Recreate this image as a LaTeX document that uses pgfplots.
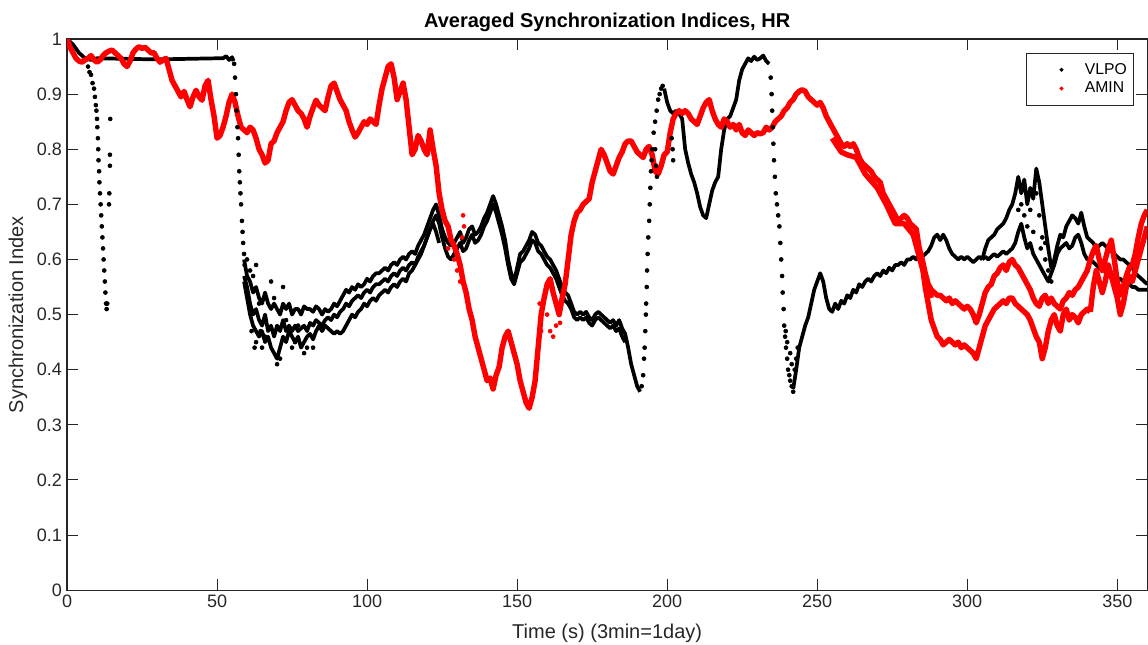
\documentclass[border=0pt]{standalone}
\usepackage{fontspec}
\setmainfont{Liberation Sans}
\usepackage{pgfplots}
\pgfplotsset{compat=1.18}
\definecolor{axgray}{rgb}{0.15,0.15,0.15}
\pgfplotsset{
  vl/.style={black, line width=2.6pt, line join=round, no markers, forget plot},
  am/.style={red, line width=3.8pt, line join=round, no markers, forget plot},
  vld/.style={black, only marks, mark=*, mark size=1.4pt, forget plot},
  amd/.style={red, only marks, mark=*, mark size=1.4pt, forget plot},
}
\begin{document}
\begin{tikzpicture}
\begin{axis}[
  scale only axis, width=756pt, height=385.7pt,
  xmin=0, xmax=360, ymin=0, ymax=1,
  xtick={0,50,100,150,200,250,300,350},
  ytick={0,0.1,0.2,0.3,0.4,0.5,0.6,0.7,0.8,0.9,1},
  yticklabel style={/pgf/number format/fixed},
  /pgf/number format/assume math mode=true,
  tick align=inside, major tick length=7.7pt,
  tick style={axgray, line width=0.7pt},
  axis line style={axgray, line width=0.8pt},
  ticklabel style={font=\fontsize{12.6}{14}\selectfont, color=axgray},
  title={Averaged Synchronization Indices, HR},
  every axis title/.style={anchor=center, at={(0.5,1.031)}, font=\bfseries\fontsize{14}{16}\selectfont},
  xlabel={Time (s) (3min=1day)},
  xlabel style={anchor=center, at={(axis description cs:0.5,-0.078)}, font=\fontsize{14}{16}\selectfont, color=axgray},
  ylabel={Synchronization Index},
  ylabel style={anchor=center, at={(axis description cs:-0.0454,0.5)}, font=\fontsize{14}{16}\selectfont, color=axgray},
  legend style={at={(0.988,0.975)}, anchor=north east, draw=axgray, line width=0.6pt,
    font=\fontsize{11}{13}\selectfont, inner xsep=3pt, inner ysep=5pt},
  legend cell align=left,
  legend image code/.code={\path (0pt,0pt) (35pt,0pt); \draw[#1] plot coordinates {(21pt,0pt)};},
]
\addlegendimage{black, only marks, mark=*, mark size=1.1pt}
\addlegendentry{VLPO}
\addlegendimage{red, only marks, mark=*, mark size=1.1pt}
\addlegendentry{AMIN}

% VLPO: start and plateau
\addplot[vl] coordinates {(0,1.0)(2,0.99)(4,0.975)(6,0.965)(8,0.962)(10,0.965)(20,0.964)(30,0.963)(40,0.964)(50,0.965)(52,0.965)(53,0.969)(54,0.962)(55,0.967)(55.5,0.96)};
% VLPO: three traces 59-125
\addplot[vl] coordinates {(59,0.60)(60,0.57)(61,0.56)(62,0.54)(63,0.55)(64,0.53)(65,0.52)(66,0.54)(67,0.52)(68,0.51)(69,0.52)(70,0.51)(71,0.50)(72,0.52)(73,0.51)(74,0.52)(75,0.50)(76,0.51)(77,0.51)(78,0.50)(79,0.515)(80,0.51)(81,0.51)(82,0.505)(83,0.515)(84,0.51)(85,0.50)(86,0.51)(87,0.505)(88,0.51)(89,0.52)(90,0.515)(91,0.525)(92,0.535)(93,0.545)(94,0.54)(95,0.55)(96,0.545)(97,0.555)(98,0.55)(99,0.555)(100,0.565)(101,0.56)(102,0.57)(103,0.575)(104,0.575)(105,0.58)(106,0.585)(107,0.58)(108,0.59)(109,0.595)(110,0.59)(111,0.60)(112,0.605)(113,0.60)(114,0.61)(115,0.615)(116,0.61)(117,0.625)(118,0.635)(119,0.645)(120,0.66)(121,0.675)(122,0.69)(123,0.70)(124,0.68)(125,0.655)(126,0.64)(127,0.63)(128,0.625)(129,0.63)(130,0.64)(131,0.65)(132,0.63)(133,0.64)(134,0.655)(135,0.66)(136,0.645)(137,0.65)(138,0.66)(139,0.675)(140,0.685)(141,0.70)(142,0.715)(143,0.70)(144,0.68)(145,0.66)(146,0.635)(147,0.60)(148,0.575)(149,0.56)(150,0.585)(151,0.61)(152,0.615)(153,0.625)(154,0.635)(155,0.65)(156,0.645)(157,0.63)(158,0.625)(159,0.615)(160,0.605)(161,0.60)(162,0.59)(163,0.58)(164,0.565)(165,0.55)(166,0.54)(167,0.535)(168,0.52)(169,0.505)(170,0.50)(171,0.505)(172,0.50)(173,0.505)(174,0.495)(175,0.49)(176,0.50)(177,0.505)(178,0.50)(179,0.495)(180,0.49)(181,0.485)(182,0.49)(183,0.48)(184,0.49)(185,0.475)(186,0.465)(187,0.44)(188,0.41)(189,0.39)(190,0.37)(191,0.36)};
\addplot[vl] coordinates {(59,0.57)(60,0.55)(61,0.52)(62,0.50)(63,0.51)(64,0.49)(65,0.48)(66,0.50)(67,0.47)(68,0.48)(69,0.46)(70,0.48)(71,0.47)(72,0.49)(73,0.47)(74,0.48)(75,0.47)(76,0.48)(77,0.47)(78,0.475)(79,0.48)(80,0.47)(81,0.485)(82,0.48)(83,0.49)(84,0.485)(85,0.48)(86,0.49)(87,0.495)(88,0.49)(89,0.50)(90,0.495)(91,0.505)(92,0.51)(93,0.52)(94,0.515)(95,0.525)(96,0.53)(97,0.535)(98,0.53)(99,0.54)(100,0.545)(101,0.54)(102,0.55)(103,0.555)(104,0.555)(105,0.56)(106,0.565)(107,0.56)(108,0.57)(109,0.575)(110,0.57)(111,0.58)(112,0.585)(113,0.58)(114,0.59)(115,0.595)(116,0.59)(117,0.605)(118,0.615)(119,0.625)(120,0.64)(121,0.655)(122,0.67)(123,0.68)(124,0.665)(125,0.64)(126,0.62)(127,0.605)(128,0.60)(129,0.61)(130,0.62)(131,0.63)(132,0.615)(133,0.62)(134,0.635)(135,0.645)(136,0.63)(137,0.635)(138,0.645)(139,0.66)(140,0.67)(141,0.685)(142,0.70)(143,0.685)(144,0.665)(145,0.645)(146,0.62)(147,0.59)(148,0.565)(149,0.555)(150,0.575)(151,0.595)(152,0.60)(153,0.61)(154,0.62)(155,0.635)(156,0.63)(157,0.615)(158,0.61)(159,0.60)(160,0.59)(161,0.585)(162,0.575)(163,0.565)(164,0.55)(165,0.535)(166,0.525)(167,0.52)(168,0.51)(169,0.495)(170,0.49)(171,0.495)(172,0.49)(173,0.495)(174,0.485)(175,0.48)(176,0.49)(177,0.495)(178,0.49)(179,0.485)(180,0.48)(181,0.475)(182,0.48)(183,0.47)(184,0.475)(185,0.46)(186,0.45)};
\addplot[vl] coordinates {(59,0.56)(60,0.53)(61,0.50)(62,0.48)(63,0.47)(64,0.46)(65,0.47)(66,0.45)(67,0.46)(68,0.44)(69,0.43)(70,0.42)(71,0.44)(72,0.46)(73,0.45)(74,0.47)(75,0.46)(76,0.45)(77,0.46)(78,0.44)(79,0.45)(80,0.46)(81,0.465)(82,0.455)(83,0.47)(84,0.48)(85,0.47)(86,0.48)(87,0.475)(88,0.47)(89,0.465)(90,0.47)(91,0.465)(92,0.47)(93,0.48)(94,0.49)(95,0.50)(96,0.495)(97,0.505)(98,0.51)(99,0.52)(100,0.515)(101,0.525)(102,0.53)(103,0.525)(104,0.535)(105,0.54)(106,0.545)(107,0.54)(108,0.55)(109,0.555)(110,0.55)(111,0.56)(112,0.565)(113,0.56)(114,0.575)(115,0.58)(116,0.59)(117,0.60)(118,0.61)(119,0.625)(120,0.64)(121,0.655)(122,0.665)(123,0.65)(124,0.63)};
% VLPO: 199-234
\addplot[vl] coordinates {(199,0.91)(200,0.885)(201,0.87)(202,0.865)(203,0.87)(204,0.865)(205,0.855)(206,0.80)(207,0.775)(208,0.755)(209,0.74)(210,0.72)(211,0.695)(212,0.68)(213,0.675)(214,0.70)(215,0.725)(216,0.74)(217,0.75)(218,0.80)(219,0.835)(220,0.855)(221,0.86)(222,0.875)(223,0.89)(224,0.925)(225,0.945)(226,0.955)(227,0.965)(228,0.96)(229,0.968)(230,0.962)(231,0.965)(232,0.97)(233,0.96)(234,0.955)};
% VLPO: 242-305
\addplot[vl] coordinates {(242,0.365)(243,0.40)(244,0.44)(245,0.46)(246,0.48)(247,0.495)(248,0.52)(249,0.545)(250,0.56)(251,0.575)(252,0.56)(253,0.53)(254,0.51)(255,0.505)(256,0.52)(257,0.51)(258,0.525)(259,0.52)(260,0.535)(261,0.53)(262,0.545)(263,0.54)(264,0.555)(265,0.55)(266,0.56)(267,0.565)(268,0.56)(269,0.57)(270,0.575)(271,0.57)(272,0.58)(273,0.575)(274,0.585)(275,0.58)(276,0.59)(277,0.59)(278,0.595)(279,0.59)(280,0.60)(281,0.60)(282,0.605)(283,0.60)(284,0.61)(285,0.605)(286,0.61)(287,0.615)(288,0.625)(289,0.64)(290,0.645)(291,0.635)(292,0.645)(293,0.635)(294,0.62)(295,0.61)(296,0.605)(297,0.60)(298,0.605)(299,0.60)(300,0.605)(301,0.60)(302,0.595)(303,0.60)(304,0.605)(305,0.60)};
% VLPO: two traces 305-360
\addplot[vl] coordinates {(305,0.60)(306,0.62)(307,0.635)(308,0.64)(309,0.645)(310,0.655)(311,0.66)(312,0.665)(313,0.675)(314,0.69)(315,0.70)(316,0.72)(317,0.75)(318,0.72)(319,0.745)(320,0.70)(321,0.73)(322,0.71)(323,0.765)(324,0.74)(325,0.70)(326,0.66)(327,0.62)(328,0.585)(329,0.60)(330,0.625)(331,0.645)(332,0.64)(333,0.66)(334,0.67)(335,0.68)(336,0.675)(337,0.665)(338,0.685)(339,0.66)(340,0.64)(341,0.635)(342,0.63)(343,0.62)(344,0.625)(345,0.63)(346,0.625)(347,0.62)(348,0.615)(349,0.61)(350,0.605)(351,0.60)(352,0.60)(353,0.595)(354,0.59)(355,0.585)(356,0.575)(357,0.57)(358,0.565)(359,0.56)(360,0.555)};
\addplot[vl] coordinates {(305,0.60)(306,0.605)(307,0.60)(308,0.605)(309,0.61)(310,0.605)(311,0.61)(312,0.615)(313,0.61)(314,0.615)(315,0.62)(316,0.63)(317,0.65)(318,0.665)(319,0.64)(320,0.62)(321,0.63)(322,0.61)(323,0.60)(324,0.59)(325,0.58)(326,0.57)(327,0.56)(328,0.575)(329,0.59)(330,0.61)(331,0.62)(332,0.625)(333,0.63)(334,0.62)(335,0.625)(336,0.64)(337,0.645)(338,0.63)(339,0.61)(340,0.60)(341,0.60)(342,0.595)(343,0.59)(344,0.585)(345,0.58)(346,0.58)(347,0.575)(348,0.575)(349,0.57)(350,0.565)(351,0.565)(352,0.56)(353,0.555)(354,0.555)(355,0.55)(356,0.55)(357,0.545)(358,0.545)(359,0.545)(360,0.545)};

% AMIN: main trace
\addplot[am] coordinates {(0,1.00)(1,0.985)(2,0.975)(3,0.965)(4,0.960)(5,0.958)(6,0.962)(7,0.965)(8,0.97)(9,0.962)(10,0.958)(11,0.962)(12,0.970)(13,0.975)(14,0.978)(15,0.980)(16,0.975)(17,0.97)(18,0.965)(19,0.955)(20,0.950)(21,0.960)(22,0.975)(23,0.982)(24,0.986)(25,0.983)(26,0.985)(27,0.980)(28,0.975)(29,0.975)(30,0.965)(31,0.958)(32,0.962)(33,0.965)(34,0.945)(35,0.925)(36,0.915)(37,0.905)(38,0.895)(39,0.905)(40,0.89)(41,0.877)(42,0.895)(43,0.907)(44,0.895)(45,0.889)(46,0.915)(47,0.925)(48,0.89)(49,0.86)(50,0.82)(51,0.825)(52,0.84)(53,0.86)(54,0.885)(55,0.90)(56,0.885)(57,0.86)(58,0.84)(59,0.835)(60,0.83)(61,0.84)(62,0.835)(63,0.82)(64,0.80)(65,0.79)(66,0.775)(67,0.78)(68,0.81)(69,0.815)(70,0.83)(71,0.84)(72,0.85)(73,0.87)(74,0.885)(75,0.89)(76,0.88)(77,0.87)(78,0.865)(79,0.855)(80,0.84)(81,0.86)(82,0.875)(83,0.889)(84,0.88)(85,0.875)(86,0.87)(87,0.895)(88,0.915)(89,0.92)(90,0.905)(91,0.89)(92,0.88)(93,0.87)(94,0.85)(95,0.835)(96,0.822)(97,0.83)(98,0.84)(99,0.85)(100,0.845)(101,0.855)(102,0.85)(103,0.845)(104,0.88)(105,0.91)(106,0.93)(107,0.95)(108,0.955)(109,0.93)(110,0.89)(111,0.905)(112,0.92)(113,0.89)(114,0.84)(115,0.79)(116,0.80)(117,0.825)(118,0.815)(119,0.80)(120,0.79)(121,0.835)(122,0.80)(123,0.77)(124,0.72)(125,0.69)(126,0.67)(127,0.66)(128,0.635)(129,0.625)(130,0.61)(131,0.59)(132,0.56)(133,0.54)(134,0.51)(135,0.49)(136,0.46)(137,0.44)(138,0.42)(139,0.40)(140,0.38)(141,0.385)(142,0.365)(143,0.39)(144,0.405)(145,0.44)(146,0.46)(147,0.47)(148,0.45)(149,0.43)(150,0.41)(151,0.38)(152,0.36)(153,0.34)(154,0.33)(155,0.35)(156,0.38)(157,0.44)(158,0.50)(159,0.53)(160,0.555)(161,0.565)(162,0.54)(163,0.52)(164,0.50)(165,0.53)(166,0.555)(167,0.60)(168,0.645)(169,0.67)(170,0.685)(171,0.69)(172,0.70)(173,0.705)(174,0.71)(175,0.74)(176,0.76)(177,0.78)(178,0.80)(179,0.79)(180,0.775)(181,0.76)(182,0.755)(183,0.77)(184,0.785)(185,0.795)(186,0.81)(187,0.815)(188,0.815)(189,0.805)(190,0.795)(191,0.79)(192,0.785)(193,0.80)(194,0.805)(195,0.79)(196,0.76)(197,0.755)(198,0.77)(199,0.79)(200,0.795)(201,0.83)(202,0.855)(203,0.865)(204,0.87)(205,0.865)(206,0.87)(207,0.865)(208,0.855)(209,0.85)(210,0.845)(211,0.86)(212,0.875)(213,0.885)(214,0.89)(215,0.87)(216,0.855)(217,0.845)(218,0.84)(219,0.855)(220,0.85)(221,0.84)(222,0.845)(223,0.835)(224,0.845)(225,0.83)(226,0.825)(227,0.835)(228,0.83)(229,0.825)(230,0.83)(231,0.828)(232,0.83)(233,0.84)(234,0.835)(235,0.84)(236,0.85)(237,0.855)(238,0.86)(239,0.87)(240,0.875)(241,0.885)(242,0.89)(243,0.90)(244,0.905)(245,0.908)(246,0.905)(247,0.895)(248,0.89)(249,0.885)(250,0.88)(251,0.885)(252,0.875)(253,0.86)(254,0.85)(255,0.84)(256,0.83)(257,0.82)(258,0.81)(259,0.805)(260,0.81)(261,0.805)(262,0.81)(263,0.80)(264,0.785)(265,0.775)(266,0.77)(267,0.765)(268,0.76)(269,0.75)(270,0.745)(271,0.74)(272,0.72)(273,0.71)(274,0.70)(275,0.69)(276,0.68)(277,0.67)(278,0.675)(279,0.68)(280,0.675)(281,0.665)(282,0.66)(283,0.655)(284,0.62)(285,0.60)(286,0.575)(287,0.555)(288,0.545)(289,0.54)(290,0.535)(291,0.535)(292,0.53)(293,0.525)(294,0.53)(295,0.52)(296,0.525)(297,0.52)(298,0.515)(299,0.51)(300,0.515)(301,0.51)(302,0.50)(303,0.485)(304,0.50)(305,0.52)(306,0.54)(307,0.55)(308,0.555)(309,0.57)(310,0.575)(311,0.585)(312,0.59)(313,0.58)(314,0.595)(315,0.60)(316,0.59)(317,0.585)(318,0.575)(319,0.565)(320,0.555)(321,0.545)(322,0.53)(323,0.52)(324,0.515)(325,0.53)(326,0.535)(327,0.52)(328,0.53)(329,0.52)(330,0.515)(331,0.51)(332,0.525)(333,0.53)(334,0.54)(335,0.535)(336,0.545)(337,0.55)(338,0.56)(339,0.57)(340,0.58)(341,0.60)(342,0.615)(343,0.625)(344,0.60)(345,0.58)(346,0.60)(347,0.62)(348,0.635)(349,0.60)(350,0.56)(351,0.535)(352,0.55)(353,0.57)(354,0.585)(355,0.59)(356,0.61)(357,0.64)(358,0.665)(359,0.68)(360,0.69)};
% AMIN: second trace 255-290
\addplot[am] coordinates {(255,0.82)(258,0.795)(260,0.79)(263,0.785)(266,0.755)(270,0.73)(273,0.70)(276,0.665)(279,0.665)(282,0.645)(285,0.585)(288,0.53)};
% AMIN: lower branch 284-360
\addplot[am] coordinates {(284,0.62)(285,0.59)(286,0.55)(287,0.52)(288,0.49)(289,0.475)(290,0.46)(291,0.455)(292,0.445)(293,0.45)(294,0.455)(295,0.45)(296,0.445)(297,0.45)(298,0.44)(299,0.445)(300,0.44)(301,0.435)(302,0.43)(303,0.42)(304,0.44)(305,0.46)(306,0.48)(307,0.49)(308,0.50)(309,0.51)(310,0.515)(311,0.52)(312,0.525)(313,0.52)(314,0.53)(315,0.53)(316,0.52)(317,0.515)(318,0.51)(319,0.505)(320,0.50)(321,0.49)(322,0.475)(323,0.46)(324,0.45)(325,0.42)(326,0.44)(327,0.47)(328,0.49)(329,0.50)(330,0.48)(331,0.47)(332,0.50)(333,0.51)(334,0.49)(335,0.50)(336,0.495)(337,0.485)(338,0.50)(339,0.505)(340,0.51)(341,0.505)};
\addplot[am] coordinates {(341,0.505)(342,0.55)(343,0.58)(344,0.56)(345,0.54)(346,0.56)(347,0.59)(348,0.57)(349,0.55)(350,0.53)(351,0.50)(352,0.52)(353,0.55)(354,0.57)(355,0.56)(356,0.58)(357,0.60)(358,0.62)(359,0.64)(360,0.66)};
% AMIN: scattered points
\addplot[amd] coordinates {(132,0.68)(132.3,0.66)(131.7,0.64)(129,0.60)(130,0.58)(131,0.56)(127,0.62)(160,0.50)(161,0.47)(162,0.46)(163,0.48)(164.3,0.485)(157.5,0.52)(158,0.47)};

% VLPO: sparse drops and rises
\addplot[vld] coordinates {(7,0.95)(7.5,0.94)(8,0.935)(8.5,0.92)(9,0.91)(9.3,0.895)(9.6,0.88)(9.8,0.87)(10,0.855)(10.1,0.84)(10.3,0.82)(10.4,0.80)(10.5,0.78)(10.7,0.76)(10.8,0.74)(11,0.72)(11.2,0.70)(11.4,0.68)(11.6,0.66)(11.8,0.64)(12,0.62)(12.2,0.60)(12.4,0.58)(12.6,0.56)(12.8,0.54)(13,0.52)(13.2,0.51)(13.4,0.52)(14,0.70)(14.1,0.72)(14.3,0.77)(14.3,0.79)(14.4,0.855)};
\addplot[vld] coordinates {(55.7,0.955)(56,0.93)(56.3,0.90)(56.5,0.87)(56.8,0.84)(57,0.82)(57.2,0.79)(57.4,0.76)(57.6,0.74)(57.8,0.72)(58,0.70)(58.3,0.67)(58.5,0.65)(58.7,0.63)(59,0.61)(59.2,0.59)(60,0.60)(61,0.58)(62,0.57)(63,0.59)(64,0.52)(64.5,0.47)(65,0.44)(66,0.46)(68,0.56)(69,0.53)(70,0.41)(71,0.42)(72,0.55)(73,0.49)(75,0.44)(76,0.45)(77,0.48)(79,0.43)(80,0.44)(82,0.44)(63,0.45)(62.5,0.44)(61.5,0.47)};
\addplot[vld] coordinates {(191.5,0.37)(192,0.39)(192.3,0.42)(192.5,0.44)(192.7,0.47)(192.9,0.50)(193,0.52)(193.2,0.55)(193.3,0.58)(193.5,0.61)(193.7,0.64)(194,0.67)(194.2,0.70)(194.4,0.73)(194.6,0.76)(194.8,0.78)(195,0.80)(195.5,0.83)(196,0.85)(196.5,0.87)(197,0.89)(197.5,0.90)(198,0.91)(198.5,0.915)(196,0.80)(196.3,0.77)(196.6,0.75)(201.5,0.82)(201.8,0.80)(202,0.78)};
\addplot[vld] coordinates {(234.5,0.93)(234.8,0.90)(235,0.87)(235.2,0.84)(235.4,0.81)(235.6,0.78)(235.9,0.75)(236.2,0.72)(236.6,0.70)(237,0.68)(237.4,0.66)(237.7,0.63)(238,0.60)(238.3,0.57)(238.5,0.54)(238.8,0.51)(239,0.48)(239.3,0.46)(239.6,0.44)(240,0.42)(240.3,0.40)(240.7,0.39)(241,0.38)(241.5,0.37)(242,0.36)(240,0.45)(239.5,0.47)(241,0.43)(241.5,0.41)(242.5,0.40)(243,0.42)(243.5,0.44)};
\addplot[vld] coordinates {(318,0.70)(319,0.68)(320,0.66)(321,0.69)(322,0.65)(323,0.72)(324,0.68)(325,0.64)(326,0.63)(317,0.69)(324.5,0.62)(326,0.60)(327,0.58)(328,0.56)};

\coordinate (bl) at (rel axis cs:0,0);
\coordinate (tr) at (rel axis cs:1,1);
\end{axis}
\pgfresetboundingbox
\path ([xshift=-46.9pt,yshift=-37.8pt]bl) rectangle ([xshift=0.5pt,yshift=27.3pt]tr);
\end{tikzpicture}
\end{document}
